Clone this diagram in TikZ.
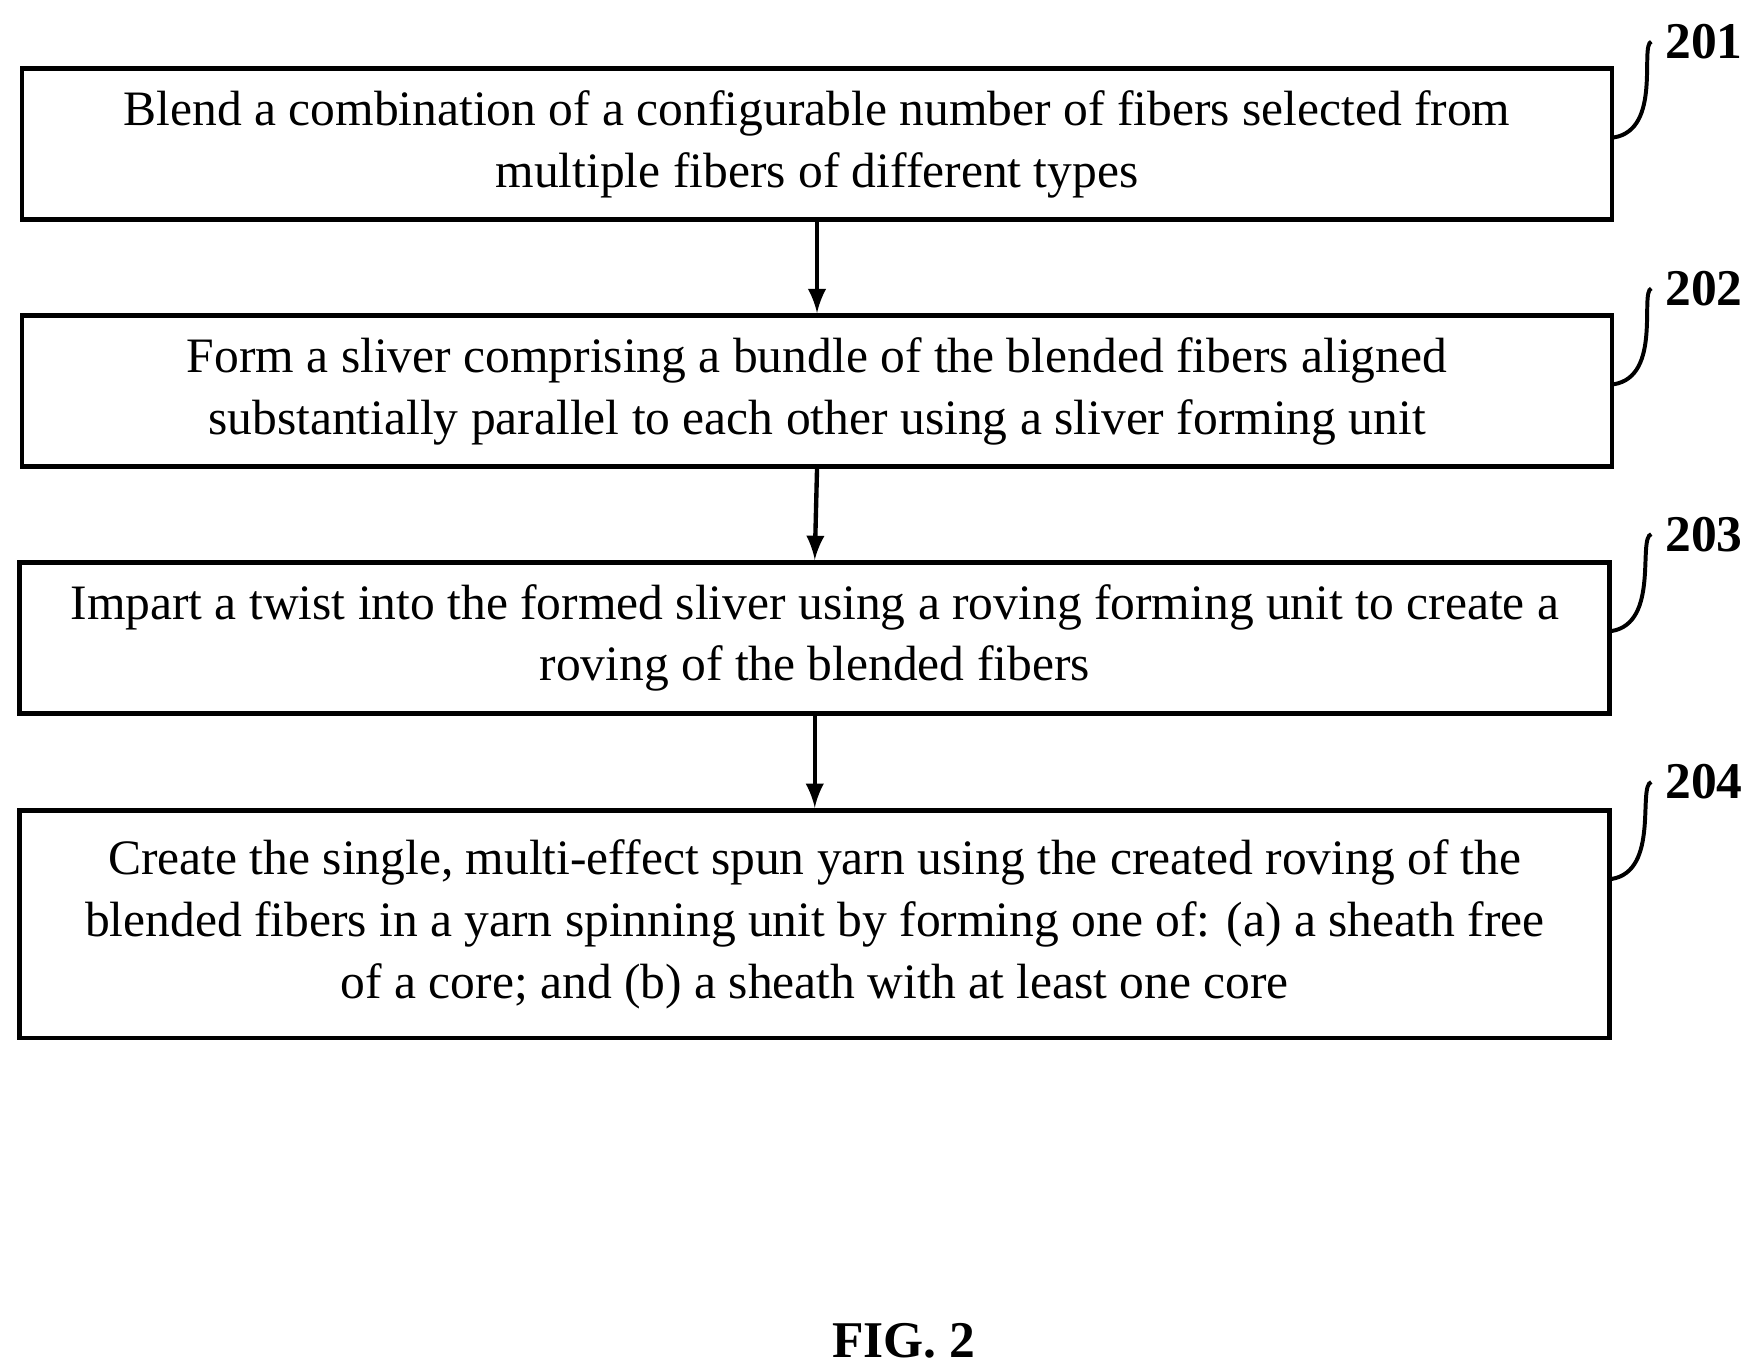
\documentclass[tikz,border=0pt]{standalone}
\usepackage{fontspec}
\setmainfont{Liberation Serif}
\usetikzlibrary{positioning}
\tikzset{
  stepbox/.style={draw,line width=1.2pt,minimum width=14.1cm,align=center,
    font=\fontsize{12.5}{15.6}\selectfont,inner sep=0pt},
  reflabel/.style={font=\fontsize{13}{15}\selectfont\bfseries},
  flow/.style={-latex,line width=1.1pt}
}
\begin{document}
\begin{tikzpicture}[x=0.01cm,y=-0.01cm]
        \useasboundingbox (0,0) rectangle (1560,1216);
        % steps
        \node[stepbox,minimum height=1.34cm] (s1) at (725,128) {Blend a combination of a configurable number of fibers selected from\\multiple fibers of different types};
        \node[stepbox,minimum height=1.34cm] (s2) at (725,347) {Form a sliver comprising a bundle of the blended fibers aligned\\substantially parallel to each other using a sliver forming unit};
        \node[stepbox,minimum height=1.34cm] (s3) at (723,566) {Impart a twist into the formed sliver using a roving forming unit to create a\\roving of the blended fibers};
        \node[stepbox,minimum height=2.02cm] (s4) at (723,820) {Create the single, multi-effect spun yarn using the created roving of the\\blended fibers in a yarn spinning unit by forming one of: (a) a sheath free\\of a core; and (b) a sheath with at least one core};
        \draw[flow] (s1.south) -- (s2.north);
        \draw[flow] (s2.south) -- (s3.north);
        \draw[flow] (s3.south) -- (s4.north);
        % reference numerals
        \node[reflabel] (n1) at (1512,37) {201};
        \node[reflabel] (n2) at (1512,256) {202};
        \node[reflabel] (n3) at (1512,474) {203};
        \node[reflabel] (n4) at (1512,694) {204};
        \draw[line width=1pt] (1432,122) .. controls (1475,115) and (1455,40) .. (n1.west);
        \draw[line width=1pt] (1432,341) .. controls (1475,334) and (1455,259) .. (n2.west);
        \draw[line width=1pt] (1430,560) .. controls (1473,553) and (1453,477) .. (n3.west);
        \draw[line width=1pt] (1430,780) .. controls (1473,773) and (1453,697) .. (n4.west);
        \node[reflabel] (fig) at (802,1190) {FIG. 2};
\end{tikzpicture}
\end{document}
